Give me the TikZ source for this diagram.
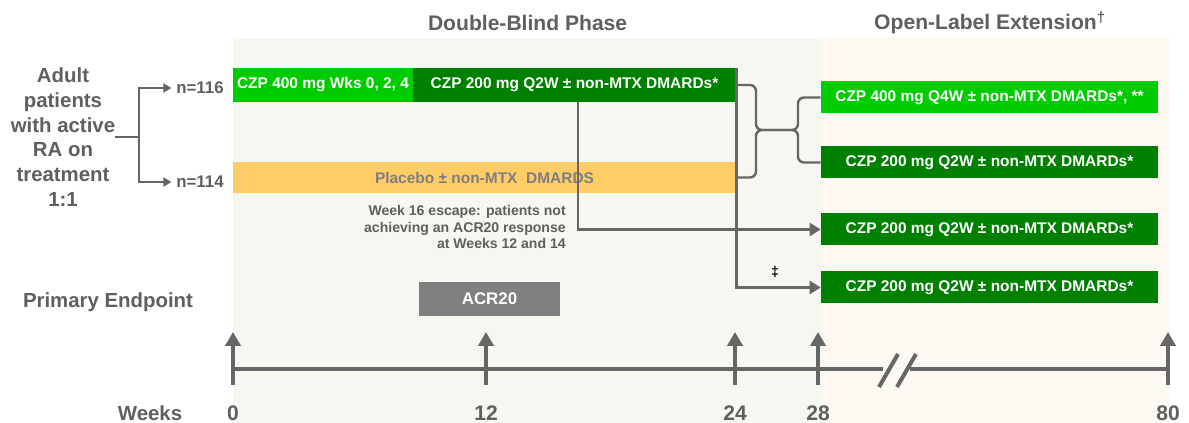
\documentclass[tikz,border=0pt]{standalone}
\usepackage{fontspec}
\setmainfont{Liberation Sans}
\usetikzlibrary{arrows.meta}

\definecolor{czplight}{HTML}{00CC00}
\definecolor{czpdark}{HTML}{008000}
\definecolor{placebofill}{HTML}{FFCC66}
\definecolor{placebotext}{HTML}{7F7F7F}
\definecolor{dbback}{HTML}{F5F8F1}
\definecolor{olback}{HTML}{FDF9F2}
\definecolor{linegray}{HTML}{666666}
\definecolor{textgray}{HTML}{5F5F5F}
\definecolor{endpointgray}{HTML}{808080}

\tikzset{
  phasetitle/.style={text=textgray, font=\fontsize{15}{18}\selectfont\bfseries},
  sidetext/.style={text=textgray, inner sep=0pt, font=\fontsize{14.5}{17.6}\selectfont\bfseries},
  armcount/.style={text=textgray, font=\fontsize{12}{14}\selectfont\bfseries},
  armbox/.style={inner sep=0pt, text=white, font=\fontsize{11}{13}\selectfont\bfseries},
  olbox/.style={armbox, fill=czpdark, minimum width=8.425cm, minimum height=0.800cm},
  notetext/.style={text=textgray, inner sep=0pt, font=\fontsize{10}{11.7}\selectfont\bfseries},
  flowline/.style={draw=linegray, line width=0.065cm},
  braceline/.style={draw=linegray, line width=0.060cm, rounded corners=0.150cm},
  flowarrow/.style={-{Triangle[length=0.280cm,width=0.330cm]}},
  axisline/.style={draw=linegray, line width=0.100cm},
  weekarrow/.style={-{Triangle[length=0.350cm,width=0.380cm]}},
  weeklabel/.style={text=textgray, font=\fontsize{15}{18}\selectfont\bfseries}
}

\begin{document}
\begin{tikzpicture}
% \clip (0,0) rectangle (29.725000,10.575000);
\useasboundingbox (0,0) rectangle (29.725000,10.575000);

% Drawing background of double-blind phase
\fill [dbback] (5.825000,0.000000) rectangle (20.525000,9.625000);%
% Drawing background of open-label extension
\fill [olback] (20.525000,0.000000) rectangle (29.250000,9.625000);%

% Marking phase titles
\node (dbTitle) [phasetitle] at (13.190000,10.000000) {Double-Blind Phase};%
\node (olTitle) [phasetitle] at (24.750000,10.000000) {Open-Label Extension\textsuperscript{†}};%

% Marking population and arms
\node (adult) [sidetext, align=center] at (1.575000,7.150000) {Adult\\patients\\with active\\RA on\\treatment\\1:1};%
\node (n116) [armcount] at (5.000000,8.375000) {n=116};%
\node (n114) [armcount] at (5.000000,6.025000) {n=114};%
\coordinate (split) at (3.475000,7.150000);

% Drawing randomisation split
\draw [flowline] (adult.east) -- (split);%
\draw [flowline, -{Triangle[length=0.200cm,width=0.230cm]}] (split) |- (n116.west);%
\draw [flowline, -{Triangle[length=0.200cm,width=0.230cm]}] (split) |- (n114.west);%

% Drawing double-blind treatment boxes
\node (czpLoad) [armbox, fill=czplight, minimum width=4.500cm, minimum height=0.850cm] at (8.075000,8.450000) {CZP 400 mg Wks 0, 2, 4};%
\node (czpMaint) [armbox, fill=czpdark, minimum width=8.075cm, minimum height=0.850cm] at (14.362500,8.450000) {CZP 200 mg Q2W ± non-MTX DMARDs*};%
\node (placebo) [armbox, fill=placebofill, text=placebotext, minimum width=12.575cm, minimum height=0.775cm] at (12.112500,6.137500) {Placebo ± non-MTX\ \ DMARDS};%

% Drawing open-label treatment boxes
\node (ol1) [olbox, fill=czplight] at (24.737500,8.137500) {CZP 400 mg Q4W ± non-MTX DMARDs*, **};%
\node (ol2) [olbox] at (24.737500,6.512500) {CZP 200 mg Q2W ± non-MTX DMARDs*};%
\node (ol3) [olbox] at (24.737500,4.837500) {CZP 200 mg Q2W ± non-MTX DMARDs*};%
\node (ol4) [olbox] at (24.737500,3.387500) {CZP 200 mg Q2W ± non-MTX DMARDs*};%

% Marking primary endpoint
\node (endpoint) [sidetext] at (2.700000,3.025000) {Primary Endpoint};%
\node (acr) [armbox, fill=endpointgray, minimum width=3.525cm, minimum height=0.850cm, font=\fontsize{12}{14}\selectfont\bfseries] at (12.237500,3.100000) {ACR20};%

% Marking week 16 escape note
\node (escNote) [notetext, align=right, anchor=east] at (14.150000,4.900000) {Week 16 escape: patients not\\achieving an ACR20 response\\at Weeks 12 and 14};%

% Drawing brace from both arms to re-randomisation
\coordinate (join) at (19.375000,7.325000);
\draw [braceline] (czpMaint.east) -| ([xshift=-0.475cm]join) -- (join);%
\draw [braceline] (placebo.east) -| ([xshift=-0.475cm]join) -- (join);%
\draw [braceline] (join) -- ([xshift=0.575cm]join) |- (ol1.west);%
\draw [braceline] (join) -- ([xshift=0.575cm]join) |- (ol2.west);%

% Drawing escape route at week 16
\draw [flowline, flowarrow] ([xshift=0.087500cm]czpMaint.south) |- (ol3.west);%

% Drawing route at week 24
\draw [flowline, flowarrow] (czpMaint.north east) |- (ol4.west);%
\node (dagger) [font=\fontsize{10}{12}\selectfont\bfseries] at (19.375000,3.775000) {‡};%

% Drawing time axis with break
\coordinate (axisA) at (5.825000,1.350000);
\coordinate (axisB) at (22.075000,1.350000);
\coordinate (axisC) at (22.750000,1.350000);
\coordinate (axisD) at (29.200000,1.350000);
\draw [axisline] (axisA) -- (axisB);%
\draw [axisline] (axisC) -- (axisD);%
\draw [axisline] (21.975000,0.900000) -- (22.450000,1.725000);%
\draw [axisline] (22.425000,0.900000) -- (22.900000,1.725000);%

% Drawing week arrows
\draw [axisline, weekarrow] (5.825000,0.950000) -- (5.825000,2.275000);%
\draw [axisline, weekarrow] (12.150000,0.950000) -- (12.150000,2.275000);%
\draw [axisline, weekarrow] (18.375000,0.950000) -- (18.375000,2.275000);%
\draw [axisline, weekarrow] (20.450000,0.950000) -- (20.450000,2.275000);%
\draw [axisline, weekarrow] (29.200000,0.950000) -- (29.200000,2.275000);%

% Marking weeks
\node (weeks) [sidetext] at (3.750000,0.250000) {Weeks};%
\node (wk0) [weeklabel] at (5.825000,0.250000) {0};%
\node (wk12) [weeklabel] at (12.150000,0.250000) {12};%
\node (wk24) [weeklabel] at (18.375000,0.250000) {24};%
\node (wk28) [weeklabel] at (20.450000,0.250000) {28};%
\node (wk80) [weeklabel] at (29.200000,0.250000) {80};%
\end{tikzpicture}
\end{document}
